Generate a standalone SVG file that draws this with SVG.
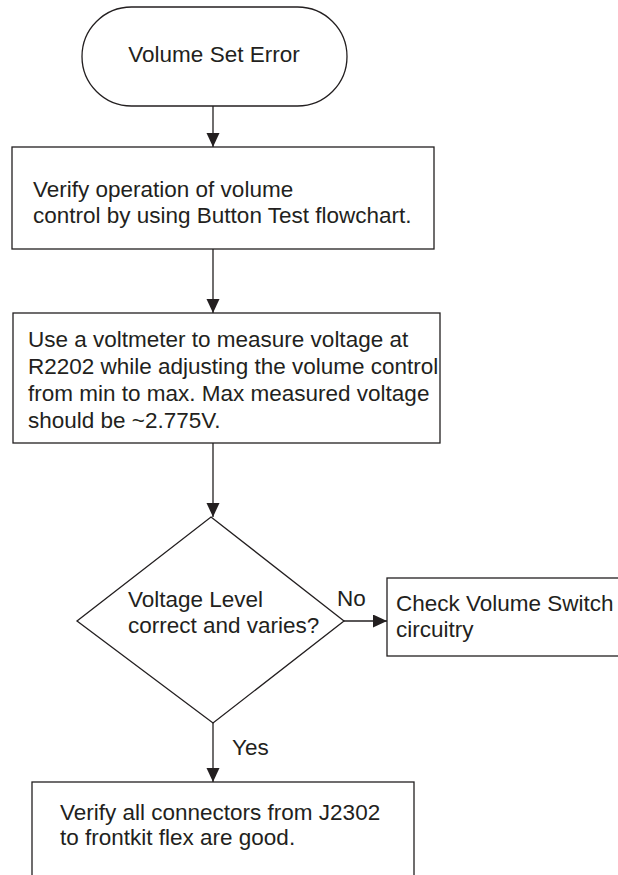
<svg xmlns="http://www.w3.org/2000/svg" width="618" height="875" viewBox="0 0 618 875">
<defs>
<marker id="arr" markerUnits="userSpaceOnUse" markerWidth="14" markerHeight="14" refX="14" refY="6.5" orient="auto">
<path d="M0,0 L14,6.5 L0,13 Z" fill="#231f20"/>
</marker>
<style>
.shape{fill:#fff;stroke:#231f20;stroke-width:1.3}
.t{font-family:"Liberation Sans",Arial,sans-serif;font-size:22.5px;fill:#231f20}
.c{fill:none;stroke:#231f20;stroke-width:1.3;marker-end:url(#arr)}
</style>
</defs>
<rect width="618" height="875" fill="#fff"/>
<g id="connectors">
<line class="c" x1="213" y1="106" x2="213" y2="147"/>
<line class="c" x1="213" y1="249" x2="213" y2="313"/>
<line class="c" x1="213" y1="443" x2="213" y2="517"/>
<line class="c" x1="344" y1="621" x2="387" y2="621"/>
<line class="c" x1="213" y1="723" x2="213" y2="782"/>
<text class="t" x="337" y="606">No</text>
<text class="t" x="232" y="755">Yes</text>
</g>
<g id="start">
<rect class="shape" x="82" y="7" width="265" height="99" rx="49.5" ry="49.5"/>
<text class="t" x="214" y="62" text-anchor="middle">Volume Set Error</text>
</g>
<g id="verify-button">
<rect class="shape" x="12" y="147" width="422" height="102"/>
<text class="t" x="33" y="197">Verify operation of volume</text>
<text class="t" x="33" y="223">control by using Button Test flowchart.</text>
</g>
<g id="measure">
<rect class="shape" x="13" y="313" width="427" height="130"/>
<text class="t" x="28" y="347">Use a voltmeter to measure voltage at</text>
<text class="t" x="28" y="374">R2202 while adjusting the volume control</text>
<text class="t" x="28" y="401">from min to max. Max measured voltage</text>
<text class="t" x="28" y="428">should be ~2.775V.</text>
</g>
<g id="decision">
<polygon class="shape" points="211,517 344,621 213,723 77,621"/>
<text class="t" x="128" y="607">Voltage Level</text>
<text class="t" x="128" y="633">correct and varies?</text>
</g>
<g id="check-switch">
<rect class="shape" x="387" y="578" width="250" height="78"/>
<text class="t" x="396" y="611">Check Volume Switch</text>
<text class="t" x="396" y="637">circuitry</text>
</g>
<g id="verify-connectors">
<rect class="shape" x="32" y="782" width="382" height="110"/>
<text class="t" x="60" y="820">Verify all connectors from J2302</text>
<text class="t" x="60" y="845">to frontkit flex are good.</text>
</g>
</svg>
